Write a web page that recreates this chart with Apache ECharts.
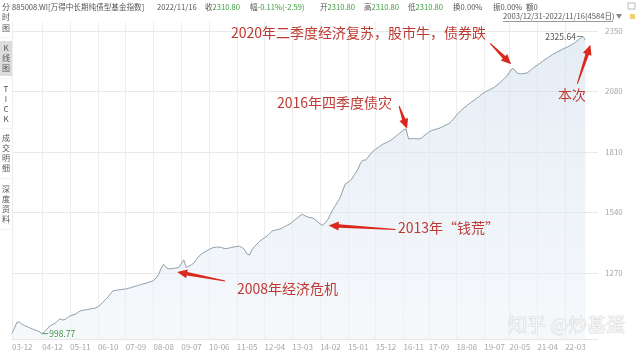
<!DOCTYPE html>
<html><head><meta charset="utf-8">
<script src="https://cdn.jsdelivr.net/npm/echarts@6/dist/echarts.min.js"></script>
<style>html,body{margin:0;padding:0;background:#fff}#c{width:640px;height:354px}</style>
</head><body><div id="c"></div>
<script>
// ---- data ----
const startYear = 2003, startMonth = 12, axisMonths = 233;
const categories = [];
for (let i = 0; i < axisMonths; i++) {
  const t = (startYear * 12 + startMonth - 1) + i;
  const y = Math.floor(t / 12), m = t % 12 + 1;
  categories.push(String(y % 100).padStart(2, '0') + '-' + String(m).padStart(2, '0'));
}
const values = [
  1000,1025,1050,1050,1040,1035,1030,1025,1020,1016,
  1012,1006,998.77,1008,1021,1033,1039,1045,1055,1065,
  1060,1062,1071,1078,1082,1085,1093,1100,1103,1105,
  1107,1109,1111,1113,1118,1128,1139,1151,1163,1177,
  1190,1192,1194,1195,1197,1198,1201,1204,1208,1211,
  1214,1218,1221,1224,1228,1231,1236,1247,1262,1290,
  1308,1294,1288,1289,1290,1292,1294,1310,1328,1294,
  1300,1306,1314,1330,1344,1354,1362,1368,1375,1380,
  1384,1385,1385,1383,1379,1379,1381,1384,1386,1388,
  1389,1384,1375,1355,1350,1373,1388,1399,1411,1419,
  1427,1435,1446,1457,1460,1463,1466,1471,1477,1483,
  1488,1497,1507,1516,1525,1532,1525,1520,1517,1515,
  1508,1498,1489,1482,1494,1508,1530,1553,1570,1589,
  1608,1640,1668,1674,1682,1698,1715,1734,1760,1774,
  1773,1787,1801,1814,1822,1830,1838,1846,1851,1856,
  1862,1871,1880,1889,1898,1908,1913,1868,1869,1870,
  1869,1868,1871,1881,1890,1899,1905,1909,1912,1915,
  1920,1926,1931,1937,1947,1960,1974,1987,1998,2007,
  2016,2025,2034,2041,2050,2058,2068,2076,2082,2087,
  2093,2099,2108,2118,2128,2139,2150,2167,2183,2177,
  2162,2159,2159,2161,2163,2172,2182,2190,2198,2206,
  2214,2222,2229,2237,2245,2251,2257,2263,2269,2274,
  2279,2285,2291,2300,2308,2318,2325.64,2310.80
];
const tickLabels = ['03-12','04-12','05-11','06-10','07-09','08-08','09-07','10-06','11-05','12-04',
  '13-03','14-02','15-01','15-12','16-11','17-09','18-08','19-07','20-05','21-04','22-03'];
const yTicks = [1270, 1540, 1810, 2080, 2350];

const headerTitle = '885008.WI[万得中长期纯债型基金指数]';
const headerDate = '2022/11/16';
const headerFields = [['收','2310.80',205],['幅','-0.11%(-2.59)',250],['开','2310.80',320],
  ['高','2310.80',364],['低','2310.80',408],['换','0.00%',453],['振','0.00%',493],['额','0',526]];
const rangeText = '2003/12/31-2022/11/16(4584日)';
const sideTabs = [['分',7],['时',17],['图',28],['K',48],['线',58],['图',68],['T',89],['I',99],['C',109],['K',119],
  ['成',138],['交',148],['明',158],['细',168],['深',189],['度',199],['资',209],['料',219]];

// annotations: [text, x, y] and arrows anchored on data month index
const notes = [
  ['2020年二季度经济复苏，股市牛，债券跌', 231, 33],
  ['2016年四季度债灾', 277, 103],
  ['本次', 558, 95],
  ['2013年“钱荒”', 398, 228],
  ['2008年经济危机', 237, 289]
];
// [monthIndex, tipDx, tipDy, tailDx, tailDy]
const arrows = [
  [198, -1, -4, -21, -21],
  [156, 1, 0, -8, -23],
  [227, 5, 5, -13, 39],
  [123, 6, 0, 67, 4],
  [65, 1, 4, 48, 9]
];

const FONT = '"Noto Sans CJK SC","Noto Sans",sans-serif';
const chart = echarts.init(document.getElementById('c'));
const showTick = (i, v) => tickLabels.indexOf(v) >= 0;

chart.setOption({
  animation: false,
  backgroundColor: '#fff',
  grid: { left: 12, right: 42, top: 22, bottom: 15 },
  xAxis: {
    type: 'category', data: categories, boundaryGap: false,
    axisLine: { lineStyle: { color: '#e6e6e6' } },
    axisTick: { show: false, interval: showTick },
    axisLabel: { interval: showTick, align: 'left', margin: 4, fontSize: 8, color: '#a8a8a8', fontFamily: FONT },
    splitLine: { show: true, interval: showTick, lineStyle: { color: '#eeeeee' } }
  },
  yAxis: {
    type: 'value', position: 'right', min: 975, max: 2390, scale: true,
    axisLine: { show: false },
    axisTick: { show: false, customValues: yTicks },
    axisLabel: { customValues: yTicks, fontSize: 8, color: '#a8a8a8', margin: 7, fontFamily: FONT,
      formatter: v => String(v) },
    splitLine: { show: true, lineStyle: { color: '#e8e8e8' } }
  },
  series: [{
    type: 'line', data: values, showSymbol: false, smooth: false,
    lineStyle: { width: 1, color: '#8d9fa9' },
    areaStyle: { color: new echarts.graphic.LinearGradient(0, 0, 0, 1, [
      { offset: 0, color: 'rgba(208,222,236,0.8)' }, { offset: 1, color: 'rgba(236,242,248,0.7)' }]) },
    markPoint: {
      silent: true,
      data: [
        { type: 'max', symbol: 'rect', symbolSize: [6, 1], symbolOffset: [-3, 0], itemStyle: { color: '#888' },
          label: { show: true, position: 'left', distance: 1, color: '#555', fontSize: 8.5, fontFamily: FONT, formatter: '{c}' } },
        { type: 'min', symbol: 'rect', symbolSize: [6, 1], symbolOffset: [3, 0], itemStyle: { color: '#4a9a4a' },
          label: { show: true, position: 'right', distance: 1, color: '#3f8f3f', fontSize: 8.5, fontFamily: FONT, formatter: '{c}' } }
      ]
    }
  }]
});

function arrowPoly(tip, tail) {
  const dx = tip[0] - tail[0], dy = tip[1] - tail[1];
  const L = Math.sqrt(dx * dx + dy * dy), ux = dx / L, uy = dy / L, nx = -uy, ny = ux;
  const hl = 10, hw = 4.5, w0 = 0.5, w1 = 1.8;
  const bx = tip[0] - ux * hl, by = tip[1] - uy * hl;
  return [
    [tail[0] + nx * w0, tail[1] + ny * w0], [bx + nx * w1, by + ny * w1], [bx + nx * hw, by + ny * hw],
    tip, [bx - nx * hw, by - ny * hw], [bx - nx * w1, by - ny * w1], [tail[0] - nx * w0, tail[1] - ny * w0]
  ];
}

const HF = '7.6px ' + FONT;
const g = [];
// sidebar
g.push({ type: 'rect', shape: { x: 0, y: 41, width: 12, height: 35 }, style: { fill: '#dcdcdc' }, z: 1 });
[37, 78, 128, 178, 229].forEach(y => g.push({ type: 'rect', shape: { x: 0, y: y, width: 12, height: 0.6 }, style: { fill: '#ececec' } }));
sideTabs.forEach(([t, y]) => g.push({ type: 'text', x: 6, y: y, z: 2,
  style: { text: t, fill: '#555', font: '8px ' + FONT, align: 'center', verticalAlign: 'middle' } }));
// header
g.push({ type: 'text', x: 12, y: 7, style: { text: headerTitle, fill: '#555', font: HF, verticalAlign: 'middle' } });
g.push({ type: 'text', x: 157, y: 7, style: { text: headerDate, fill: '#555', font: HF, verticalAlign: 'middle' } });
headerFields.forEach(([a, b, x], i) => {
  const green = i < 5;
  g.push({ type: 'text', x: x, y: 7, style: {
    text: '{a|' + a + '}{b|' + b + '}', verticalAlign: 'middle',
    rich: { a: { fill: '#555', font: HF }, b: { fill: green ? '#3a9a3a' : '#555', font: HF } } } });
});
g.push({ type: 'text', x: 503, y: 16, style: { text: rangeText, fill: '#555', font: '7.6px ' + FONT, verticalAlign: 'middle' } });
g.push({ type: 'rect', shape: { x: 503, y: 21, width: 110, height: 0.7 }, style: { fill: '#777' } });
g.push({ type: 'polygon', shape: { points: [[616, 14], [622, 14], [619, 19]] }, style: { fill: '#888' } });
g.push({ type: 'rect', shape: { x: 628, y: 3, width: 7, height: 6 }, style: { fill: 'none', stroke: '#aaa', lineWidth: 0.8 } });
g.push({ type: 'rect', shape: { x: 630, y: 14, width: 5, height: 5 }, style: { fill: '#f0d070' } });
// annotations
notes.forEach(([t, x, y]) => g.push({ type: 'text', x: x, y: y, z: 10,
  style: { text: t, fill: '#bd3a33', font: '14px ' + FONT, verticalAlign: 'middle' } }));
arrows.forEach(([mi, tdx, tdy, ldx, ldy]) => {
  const p = chart.convertToPixel({ seriesIndex: 0 }, [categories[mi], values[mi]]);
  const tip = [p[0] + tdx, p[1] + tdy], tail = [tip[0] + ldx, tip[1] + ldy];
  g.push({ type: 'polygon', z: 10, shape: { points: arrowPoly(tip, tail) }, style: { fill: '#d9281e' } });
});
// watermark
g.push({ type: 'text', x: 508, y: 325, z: 5, style: { text: '知乎 @炒基蛋', fill: 'rgba(250,250,250,0.7)',
  stroke: '#d2d2d2', lineWidth: 0.7, font: '19px ' + FONT, verticalAlign: 'middle' } });

chart.setOption({ graphic: g });
</script>
</body></html>
